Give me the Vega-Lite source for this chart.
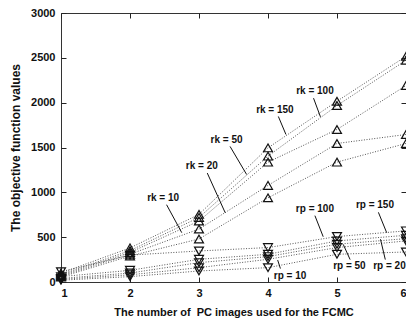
{
  "$schema": "https://vega.github.io/schema/vega-lite/v6.json",
  "width": 345,
  "height": 269,
  "autosize": "none",
  "padding": {"left": 61, "top": 13, "right": 0, "bottom": 43},
  "background": "white",
  "config": {
    "view": {"stroke": "#333", "strokeWidth": 1},
    "font": "Liberation Sans",
    "axis": {
      "grid": false, "domain": false, "ticks": true, "tickSize": -5, "tickColor": "#222",
      "labelFont": "Liberation Sans", "labelFontWeight": "bold", "labelFontSize": 11, "labelColor": "#111",
      "titleFont": "Liberation Sans", "titleFontWeight": "bold", "titleFontSize": 11, "titleColor": "#111"
    }
  },
  "resolve": {"axis": {"x": "independent", "y": "independent"}},
  "datasets": {
    "series": [
      {"s": "rk150", "t": "rk", "x": 1, "y": 100}, {"s": "rk150", "t": "rk", "x": 2, "y": 380}, {"s": "rk150", "t": "rk", "x": 3, "y": 754}, {"s": "rk150", "t": "rk", "x": 4, "y": 1496}, {"s": "rk150", "t": "rk", "x": 5, "y": 2016}, {"s": "rk150", "t": "rk", "x": 6, "y": 2517},
      {"s": "rk100", "t": "rk", "x": 1, "y": 85}, {"s": "rk100", "t": "rk", "x": 2, "y": 350}, {"s": "rk100", "t": "rk", "x": 3, "y": 720}, {"s": "rk100", "t": "rk", "x": 4, "y": 1404}, {"s": "rk100", "t": "rk", "x": 5, "y": 1968}, {"s": "rk100", "t": "rk", "x": 6, "y": 2473},
      {"s": "rk50", "t": "rk", "x": 1, "y": 75}, {"s": "rk50", "t": "rk", "x": 2, "y": 330}, {"s": "rk50", "t": "rk", "x": 3, "y": 680}, {"s": "rk50", "t": "rk", "x": 4, "y": 1337}, {"s": "rk50", "t": "rk", "x": 5, "y": 1701}, {"s": "rk50", "t": "rk", "x": 6, "y": 2191},
      {"s": "rk20", "t": "rk", "x": 1, "y": 65}, {"s": "rk20", "t": "rk", "x": 2, "y": 310}, {"s": "rk20", "t": "rk", "x": 3, "y": 590}, {"s": "rk20", "t": "rk", "x": 4, "y": 1077}, {"s": "rk20", "t": "rk", "x": 5, "y": 1545}, {"s": "rk20", "t": "rk", "x": 6, "y": 1645},
      {"s": "rk10", "t": "rk", "x": 1, "y": 55}, {"s": "rk10", "t": "rk", "x": 2, "y": 290}, {"s": "rk10", "t": "rk", "x": 3, "y": 480}, {"s": "rk10", "t": "rk", "x": 4, "y": 939}, {"s": "rk10", "t": "rk", "x": 5, "y": 1337}, {"s": "rk10", "t": "rk", "x": 6, "y": 1545},
      {"s": "rp100", "t": "rp", "x": 1, "y": 115}, {"s": "rp100", "t": "rp", "x": 2, "y": 300}, {"s": "rp100", "t": "rp", "x": 3, "y": 346}, {"s": "rp100", "t": "rp", "x": 4, "y": 384}, {"s": "rp100", "t": "rp", "x": 5, "y": 507}, {"s": "rp100", "t": "rp", "x": 6, "y": 570},
      {"s": "rp150", "t": "rp", "x": 1, "y": 60}, {"s": "rp150", "t": "rp", "x": 2, "y": 130}, {"s": "rp150", "t": "rp", "x": 3, "y": 253}, {"s": "rp150", "t": "rp", "x": 4, "y": 309}, {"s": "rp150", "t": "rp", "x": 5, "y": 458}, {"s": "rp150", "t": "rp", "x": 6, "y": 521},
      {"s": "rp20", "t": "rp", "x": 1, "y": 40}, {"s": "rp20", "t": "rp", "x": 2, "y": 100}, {"s": "rp20", "t": "rp", "x": 3, "y": 216}, {"s": "rp20", "t": "rp", "x": 4, "y": 283}, {"s": "rp20", "t": "rp", "x": 5, "y": 421}, {"s": "rp20", "t": "rp", "x": 6, "y": 484},
      {"s": "rp50", "t": "rp", "x": 1, "y": 30}, {"s": "rp50", "t": "rp", "x": 2, "y": 80}, {"s": "rp50", "t": "rp", "x": 3, "y": 160}, {"s": "rp50", "t": "rp", "x": 4, "y": 253}, {"s": "rp50", "t": "rp", "x": 5, "y": 384}, {"s": "rp50", "t": "rp", "x": 6, "y": 458},
      {"s": "rp10", "t": "rp", "x": 1, "y": 20}, {"s": "rp10", "t": "rp", "x": 2, "y": 60}, {"s": "rp10", "t": "rp", "x": 3, "y": 123}, {"s": "rp10", "t": "rp", "x": 4, "y": 160}, {"s": "rp10", "t": "rp", "x": 5, "y": 309}, {"s": "rp10", "t": "rp", "x": 6, "y": 335}
    ],
    "notes": [
      {"label": "rk = 100", "tx": 4.68, "ty": 2127, "x1": 4.66, "y1": 2050, "x2": 4.76, "y2": 1842},
      {"label": "rk = 150", "tx": 4.10, "ty": 1923, "x1": 4.15, "y1": 1846, "x2": 4.26, "y2": 1645},
      {"label": "rk = 50", "tx": 3.40, "ty": 1589, "x1": 3.45, "y1": 1512, "x2": 3.69, "y2": 1199},
      {"label": "rk = 20", "tx": 3.04, "ty": 1292, "x1": 3.12, "y1": 1215, "x2": 3.38, "y2": 772},
      {"label": "rk = 10", "tx": 2.48, "ty": 939, "x1": 2.53, "y1": 862, "x2": 2.75, "y2": 550},
      {"label": "rp = 100", "tx": 4.68, "ty": 817, "x1": 4.68, "y1": 740, "x2": 4.80, "y2": 505},
      {"label": "rp = 150", "tx": 5.55, "ty": 854, "x1": 5.60, "y1": 777, "x2": 5.72, "y2": 550},
      {"label": "rp = 50", "tx": 5.18, "ty": 178, "x1": 5.19, "y1": 250, "x2": 5.09, "y2": 420},
      {"label": "rp = 20", "tx": 5.76, "ty": 178, "x1": 5.70, "y1": 250, "x2": 5.63, "y2": 477},
      {"label": "rp = 10", "tx": 4.32, "ty": 70, "x1": 4.18, "y1": 150, "x2": 4.14, "y2": 245}
    ]
  },
  "layer": [
    {
      "data": {"name": "series"},
      "mark": {"type": "line", "strokeDash": [1, 1.6], "strokeWidth": 1, "color": "#555"},
      "encoding": {
        "x": {"field": "x", "type": "quantitative", "scale": {"domain": [1, 6], "nice": false}, "axis": {"orient": "bottom", "values": [1, 2, 3, 4, 5, 6], "format": "d", "title": "The number of \u00a0PC images used for the FCMC", "titlePadding": 8, "labelPadding": 10}},
        "y": {"field": "y", "type": "quantitative", "scale": {"domain": [0, 3000], "nice": false}, "axis": {"orient": "left", "values": [0, 500, 1000, 1500, 2000, 2500, 3000], "format": "d", "title": "The objective function values", "titleFontSize": 12, "titlePadding": 8, "labelPadding": 11}},
        "detail": {"field": "s"}
      }
    },
    {
      "data": {"name": "series"},
      "mark": {"type": "point", "filled": false, "size": 80, "strokeWidth": 1.2, "color": "#111", "opacity": 1},
      "encoding": {
        "x": {"field": "x", "type": "quantitative", "axis": {"orient": "top", "values": [1, 2, 3, 4, 5, 6], "labels": false, "title": null}},
        "y": {"field": "y", "type": "quantitative", "axis": {"orient": "right", "values": [0, 500, 1000, 1500, 2000, 2500, 3000], "labels": false, "title": null}},
        "shape": {"field": "t", "type": "nominal", "scale": {"domain": ["rk", "rp"], "range": ["triangle-up", "triangle-down"]}, "legend": null}
      }
    },
    {
      "data": {"name": "notes"},
      "mark": {"type": "rule", "color": "#111", "strokeWidth": 1},
      "encoding": {
        "x": {"field": "x1", "type": "quantitative", "axis": null},
        "y": {"field": "y1", "type": "quantitative", "axis": null},
        "x2": {"field": "x2"},
        "y2": {"field": "y2"}
      }
    },
    {
      "data": {"name": "notes"},
      "mark": {"type": "text", "font": "Liberation Sans", "fontWeight": "bold", "fontSize": 10, "color": "#111", "baseline": "middle", "align": "center"},
      "encoding": {
        "x": {"field": "tx", "type": "quantitative", "axis": null},
        "y": {"field": "ty", "type": "quantitative", "axis": null},
        "text": {"field": "label"}
      }
    }
  ]
}
